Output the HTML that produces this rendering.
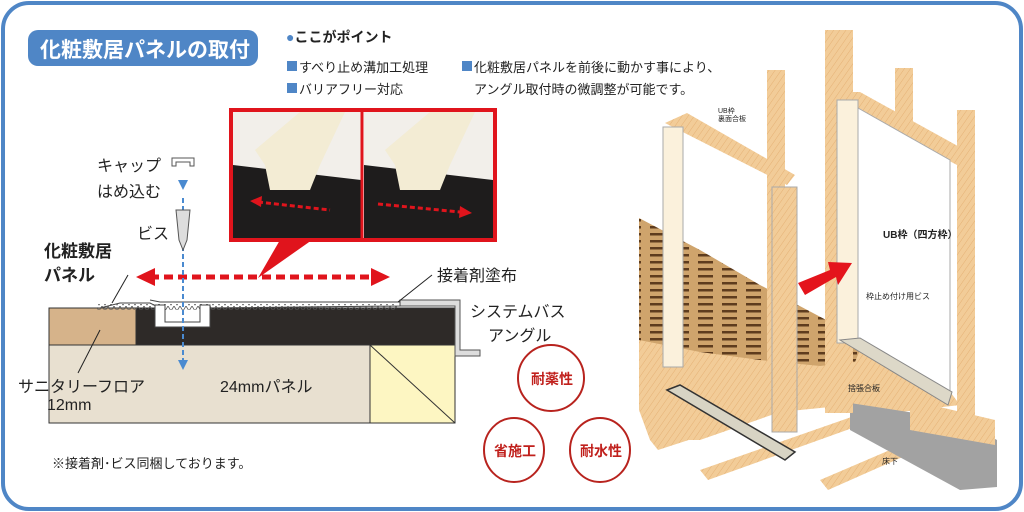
<!DOCTYPE html>
<html><head><meta charset="utf-8"><style>
html,body{margin:0;padding:0;background:#fff}
body{width:1024px;height:512px;overflow:hidden;position:relative;font-family:"Liberation Sans","Noto Sans CJK JP",sans-serif}
.t{position:absolute;white-space:nowrap;color:#222}
</style></head><body>
<svg width="1024" height="512" style="position:absolute;left:0;top:0">
<defs>
<pattern id="wood" width="5" height="5" patternUnits="userSpaceOnUse" patternTransform="rotate(35)">
<rect width="5" height="5" fill="#f2cc98"/><line x1="0" y1="0" x2="0" y2="5" stroke="#e2aa6c" stroke-width="0.8"/></pattern>
<pattern id="dark" width="24" height="7" patternUnits="userSpaceOnUse">
<rect width="24" height="7" fill="#cfa46c"/><rect x="2" y="2" width="15" height="2.5" fill="#5e3c1e"/></pattern>
<pattern id="zig" width="6" height="6" patternUnits="userSpaceOnUse"><path d="M0 0 L3 5 L6 0" fill="none" stroke="#555" stroke-width="0.8"/></pattern>
</defs>
<rect x="3" y="3" width="1018" height="506" rx="26" fill="#fff" stroke="#4f86c6" stroke-width="4"/>
<rect x="28" y="30" width="230" height="36" rx="10" fill="#4f86c6"/>
<!-- right illustration -->
<polygon points="639,330 700,345 830,362 880,345 945,385 960,405 900,412 850,405 780,412 700,440 650,440 639,410" fill="url(#wood)"/>
<polygon points="639,218 700,250 760,285 830,322 862,345 855,362 820,366 760,360 700,352 639,340" fill="url(#dark)"/>
<polygon points="650,440 840,380 848,388 658,450" fill="url(#wood)"/>
<polygon points="700,470 900,400 908,408 708,480" fill="url(#wood)"/>
<polygon points="820,480 960,420 968,428 828,490" fill="url(#wood)"/>
<polygon points="850,403 960,420 997,440 997,487 960,490 850,430" fill="#a2a2a2"/>
<polygon points="910,400 995,420 995,445 910,430" fill="url(#wood)"/>
<rect x="825" y="30" width="28" height="383" fill="url(#wood)"/>
<rect x="895" y="68" width="18" height="60" fill="url(#wood)"/>
<rect x="957" y="110" width="18" height="310" fill="url(#wood)"/>
<polygon points="837,92 860,92 965,150 957,165 845,105" fill="url(#wood)"/>
<rect x="767" y="70" width="18" height="300" fill="url(#wood)"/>
<polygon points="665,123 687,113 795,175 787,185" fill="url(#wood)"/>
<rect x="663" y="127" width="20" height="240" fill="#fbf1dc" stroke="#aaa"/>
<rect x="772" y="187" width="25" height="245" fill="url(#wood)" stroke="#aaa"/>
<polygon points="858,108 950,160 950,395 858,345" fill="#fff" stroke="#aaa"/>
<rect x="837" y="100" width="21" height="243" fill="#fbf1dc" stroke="#aaa"/>
<polygon points="840,340 860,338 952,392 948,405" fill="#ddd8c8" stroke="#888"/>
<polygon points="667,390 680,385 795,452 785,460" fill="#d8d4c4" stroke="#333" stroke-width="1.5"/>
<polygon points="798,283 830,270 828,262 852,263 838,285 836,277 805,295" fill="#e4141c"/>
<!-- left diagram -->
<rect x="231" y="110" width="264" height="130" fill="#fff" stroke="#e0141c" stroke-width="4"/>
<rect x="233" y="112" width="128" height="126" fill="#f2efea"/><rect x="364" y="112" width="129" height="126" fill="#f2efea"/>
<polygon points="233,165 361,180 361,238 233,238" fill="#1e1c1c"/>
<polygon points="364,165 493,180 493,238 364,238" fill="#1e1c1c"/>
<polygon points="255,150 300,112 345,112 320,165 310,190 270,190 265,165" fill="#f3ecd4"/>
<polygon points="385,150 430,112 475,112 450,165 440,190 400,190 395,165" fill="#f3ecd4"/>
<line x1="362" y1="110" x2="362" y2="240" stroke="#e0141c" stroke-width="3"/>
<line x1="258" y1="202" x2="330" y2="210" stroke="#e0141c" stroke-width="3" stroke-dasharray="5,3"/>
<polygon points="250,201 262,196 261,207" fill="#e0141c"/>
<line x1="378" y1="204" x2="460" y2="212" stroke="#e0141c" stroke-width="3" stroke-dasharray="5,3"/>
<polygon points="472,213 460,206 459,218" fill="#e0141c"/>
<polygon points="280,240 312,240 258,278" fill="#e0141c"/>
<line x1="150" y1="277" x2="378" y2="277" stroke="#e0141c" stroke-width="5" stroke-dasharray="9,5"/>
<polygon points="136,277 155,268 155,286" fill="#e0141c"/><polygon points="390,277 371,268 371,286" fill="#e0141c"/>
<rect x="49" y="345" width="321" height="78" fill="#e8e0d0" stroke="#333"/>
<rect x="370" y="345" width="85" height="78" fill="#fdf6c2" stroke="#333"/>
<line x1="370" y1="345" x2="455" y2="423" stroke="#333"/>
<rect x="49" y="308" width="87" height="37" fill="#d6b38a" stroke="#333"/>
<rect x="136" y="308" width="319" height="37" fill="#2e2a28" stroke="#333"/>
<polygon points="400,300 460,300 460,350 480,350 480,356 455,356 455,306 400,306" fill="#ddd" stroke="#555"/>
<path d="M100,308 L120,303 L150,303 L160,308 L160,324 L205,324 L205,308 L400,306 L400,302 L160,302 L150,300" fill="#fff" stroke="#444"/>
<rect x="97" y="304" width="300" height="6" fill="url(#zig)"/>
<path d="M155,305 L165,305 L165,322 L200,322 L200,305 L210,305 L210,327 L155,327 Z" fill="#fff" stroke="#444"/>
<line x1="183" y1="198" x2="183" y2="360" stroke="#4a8ad0" stroke-width="2" stroke-dasharray="5,3"/>
<polygon points="178,360 188,360 183,370" fill="#4a8ad0"/>
<polygon points="178,180 188,180 183,190" fill="#4a8ad0"/>
<path d="M172,158 L194,158 L194,166 L190,166 L190,162 L176,162 L176,166 L172,166 Z" fill="#fff" stroke="#555"/>
<polygon points="176,210 190,210 187,240 183,250 179,240" fill="#ddd" stroke="#555"/>
<line x1="128" y1="275" x2="112" y2="303" stroke="#222"/>
<line x1="78" y1="373" x2="100" y2="330" stroke="#222"/>
<line x1="432" y1="275" x2="398" y2="302" stroke="#222"/>
<g stroke="#b8231e" stroke-width="2" fill="#fff">
<ellipse cx="551" cy="378" rx="33" ry="33"/><ellipse cx="514" cy="450" rx="30" ry="32"/><ellipse cx="600" cy="450" rx="30" ry="32"/></g>
<rect x="287" y="61" width="10" height="10" fill="#4f86c6"/>
<rect x="287" y="83" width="10" height="10" fill="#4f86c6"/>
<rect x="462" y="61" width="10" height="10" fill="#4f86c6"/>
</svg>
<div class="t" style="left:40px;top:34px;font-size:21px;font-weight:bold;color:#fff">化粧敷居パネルの取付</div>
<div class="t" style="left:286px;top:27px;font-size:14px;font-weight:bold"><span style="color:#4f86c6">●</span>ここがポイント</div>
<div class="t" style="left:299px;top:57px;font-size:13px">すべり止め溝加工処理</div>
<div class="t" style="left:299px;top:79px;font-size:13px">バリアフリー対応</div>
<div class="t" style="left:474px;top:57px;font-size:13px">化粧敷居パネルを前後に動かす事により、</div>
<div class="t" style="left:474px;top:79px;font-size:13px">アングル取付時の微調整が可能です。</div>
<div class="t" style="left:97px;top:152px;font-size:16px">キャップ</div>
<div class="t" style="left:97px;top:178px;font-size:16px">はめ込む</div>
<div class="t" style="left:137px;top:220px;font-size:16px">ビス</div>
<div class="t" style="left:44px;top:240px;font-size:17px;font-weight:bold;line-height:24px">化粧敷居<br>パネル</div>
<div class="t" style="left:437px;top:262px;font-size:16px">接着剤塗布</div>
<div class="t" style="left:470px;top:298px;font-size:16px">システムバス</div>
<div class="t" style="left:488px;top:322px;font-size:16px">アングル</div>
<div class="t" style="left:18px;top:373px;font-size:16px">サニタリーフロア</div>
<div class="t" style="left:47px;top:397px;font-size:16px">12mm</div>
<div class="t" style="left:220px;top:373px;font-size:16px">24mmパネル</div>
<div class="t" style="left:52px;top:453px;font-size:13px">※接着剤･ビス同梱しております。</div>
<div class="t" style="left:531px;top:369px;font-size:14px;font-weight:bold;color:#c0201c">耐薬性</div>
<div class="t" style="left:494px;top:441px;font-size:14px;font-weight:bold;color:#c0201c">省施工</div>
<div class="t" style="left:580px;top:441px;font-size:14px;font-weight:bold;color:#c0201c">耐水性</div>
<div class="t" style="left:718px;top:108px;font-size:7px;line-height:8px">UB枠<br>裏面合板</div>
<div class="t" style="left:883px;top:226px;font-size:10px;font-weight:bold">UB枠（四方枠）</div>
<div class="t" style="left:866px;top:291px;font-size:8px">枠止め付け用ビス</div>
<div class="t" style="left:848px;top:383px;font-size:8px">捨張合板</div>
<div class="t" style="left:882px;top:456px;font-size:8px">床下</div>
</body></html>
